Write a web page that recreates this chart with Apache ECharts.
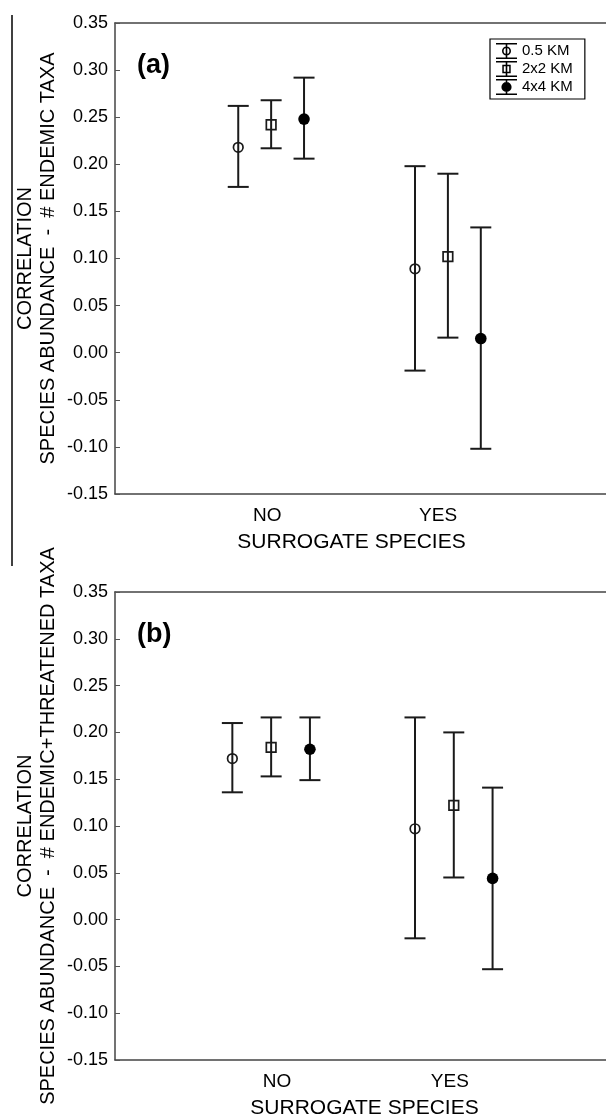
<!DOCTYPE html>
<html>
<head>
<meta charset="utf-8">
<script src="https://cdn.jsdelivr.net/npm/echarts@6/dist/echarts.min.js"></script>
<style>
html,body{margin:0;padding:0;background:#fff;}
#chart{width:606px;height:1120px;}
</style>
</head>
<body>
<div id="chart"></div>
<script>
// ---------- DATA ----------
const categories = ['NO', 'YES'];
const sizeClasses = ['0.5 KM', '2x2 KM', '4x4 KM'];
const yTickMin = -0.15, yTickMax = 0.35, yTickStep = 0.05;

// Panel (a): species abundance vs # endemic taxa
const a05Mean = [0.218, 0.089];  const a05Low = [0.176, -0.019]; const a05High = [0.262, 0.198];
const a2Mean  = [0.242, 0.102];  const a2Low  = [0.217, 0.016];  const a2High  = [0.268, 0.190];
const a4Mean  = [0.248, 0.015];  const a4Low  = [0.206, -0.102]; const a4High  = [0.292, 0.133];

// Panel (b): species abundance vs # endemic+threatened taxa
const b05Mean = [0.172, 0.097];  const b05Low = [0.136, -0.020]; const b05High = [0.210, 0.216];
const b2Mean  = [0.184, 0.122];  const b2Low  = [0.153, 0.045];  const b2High  = [0.216, 0.200];
const b4Mean  = [0.182, 0.044];  const b4Low  = [0.149, -0.053]; const b4High  = [0.216, 0.141];

const yTitleA = 'CORRELATION\nSPECIES ABUNDANCE  -  # ENDEMIC TAXA';
const yTitleB = 'CORRELATION\nSPECIES ABUNDANCE  -  # ENDEMIC+THREATENED TAXA';
const xTitle = 'SURROGATE SPECIES';

// ---------- LAYOUT ----------
const FONT = '"Liberation Sans", Arial, Helvetica, sans-serif';
const INK = '#1a1a1a';
const AXIS = '#444';
const panels = [
  { means: [a05Mean, a2Mean, a4Mean], lows: [a05Low, a2Low, a4Low], highs: [a05High, a2High, a4High],
    centers: [31.8, 67.8], offset: 6.7, labelPos: [31.0, 65.8], top: 23, yTitle: yTitleA, label: '(a)',
    xNamePad: [0, 18, 0, 0] },
  { means: [b05Mean, b2Mean, b4Mean], lows: [b05Low, b2Low, b4Low], highs: [b05High, b2High, b4High],
    centers: [31.8, 69.0], offset: 7.9, labelPos: [33.0, 68.2], top: 592, yTitle: yTitleB, label: '(b)',
    xNamePad: [0, 0, 0, 8] }
];
const PLOT_H = 471;
const markerKinds = ['ring', 'square', 'dot'];

function renderErr(kind) {
  return function (params, api) {
    const x = api.value(0);
    const m = api.coord([x, api.value(1)]);
    const lo = api.coord([x, api.value(2)]);
    const hi = api.coord([x, api.value(3)]);
    const cw = 10.5;
    const ls = { stroke: INK, lineWidth: 2 };
    const children = [
      { type: 'line', shape: { x1: hi[0], y1: hi[1], x2: lo[0], y2: lo[1] }, style: ls },
      { type: 'line', shape: { x1: hi[0] - cw, y1: hi[1], x2: hi[0] + cw, y2: hi[1] }, style: ls },
      { type: 'line', shape: { x1: lo[0] - cw, y1: lo[1], x2: lo[0] + cw, y2: lo[1] }, style: ls }
    ];
    if (kind === 'ring') {
      children.push({ type: 'circle', shape: { cx: m[0], cy: m[1], r: 4.8 }, style: { fill: 'none', stroke: INK, lineWidth: 1.7 } });
    } else if (kind === 'square') {
      children.push({ type: 'rect', shape: { x: m[0] - 4.8, y: m[1] - 4.8, width: 9.6, height: 9.6 }, style: { fill: 'none', stroke: INK, lineWidth: 1.7 } });
    } else {
      children.push({ type: 'circle', shape: { cx: m[0], cy: m[1], r: 5.8 }, style: { fill: '#000' } });
    }
    return { type: 'group', children: children };
  };
}

const icons = [
  'path://M0 0H21V1.6H0Z M0 14.4H21V16H0Z M9.7 1.6H11.3V14.4H9.7Z M15 8A4.5 4.5 0 1 1 6 8A4.5 4.5 0 1 1 15 8Z M13.4 8A2.9 2.9 0 1 0 7.6 8A2.9 2.9 0 1 0 13.4 8Z',
  'path://M0 0H21V1.6H0Z M0 14.4H21V16H0Z M9.7 1.6H11.3V14.4H9.7Z M6.3 3.8H14.7V12.2H6.3Z M7.8 5.3V10.7H13.2V5.3Z',
  'path://M0 0H21V1.6H0Z M0 14.4H21V16H0Z M9.7 1.6H11.3V14.4H9.7Z M15.6 8A5.1 5.1 0 1 1 5.4 8A5.1 5.1 0 1 1 15.6 8Z'
];

const grids = [], xAxes = [], yAxes = [], series = [], titles = [];
panels.forEach(function (p, pi) {
  grids.push({ left: 115, right: 0, top: p.top, height: PLOT_H, show: false });
  xAxes.push({
    type: 'value', gridIndex: pi, min: 0, max: 100, position: 'bottom',
    splitLine: { show: false },
    axisLine: { show: true, onZero: false, lineStyle: { color: AXIS, width: 1.5 } },
    axisTick: { show: false },
    axisLabel: {
      customValues: p.labelPos, margin: 12, fontSize: 19, color: '#000', fontFamily: FONT,
      formatter: function (v) {
        for (let i = 0; i < p.labelPos.length; i++) if (Math.abs(p.labelPos[i] - v) < 1e-6) return categories[i];
        return '';
      }
    },
    name: xTitle, nameLocation: 'middle', nameGap: 38, nameMoveOverlap: false,
    nameTextStyle: { fontSize: 21, color: '#000', fontFamily: FONT, padding: p.xNamePad }
  });
  // top frame line of the panel
  xAxes.push({
    type: 'value', gridIndex: pi, min: 0, max: 100, position: 'top',
    splitLine: { show: false },
    axisLine: { show: true, onZero: false, lineStyle: { color: AXIS, width: 1.5 } },
    axisTick: { show: false }, axisLabel: { show: false }
  });
  yAxes.push({
    type: 'value', gridIndex: pi, min: yTickMin, max: yTickMax, interval: yTickStep,
    splitLine: { show: false },
    axisLine: { show: true, onZero: false, lineStyle: { color: AXIS, width: 1.5 } },
    axisTick: { show: true, inside: true, length: 5, lineStyle: { color: '#555', width: 1 } },
    axisLabel: { margin: 7, fontSize: 18, color: '#000', fontFamily: FONT,
      formatter: function (v) { return (Math.abs(v) < 1e-9 ? 0 : v).toFixed(2); } },
    name: p.yTitle, nameLocation: 'middle', nameGap: 55, nameRotate: 90, nameMoveOverlap: false,
    nameTextStyle: { fontSize: 20, lineHeight: 23, color: '#000', fontFamily: FONT, align: 'center' }
  });
  sizeClasses.forEach(function (name, si) {
    const data = categories.map(function (c, ci) {
      return [p.centers[ci] + (si - 1) * p.offset, p.means[si][ci], p.lows[si][ci], p.highs[si][ci]];
    });
    series.push({
      type: 'custom', name: name, xAxisIndex: pi * 2, yAxisIndex: pi,
      itemStyle: { color: '#000' },
      renderItem: renderErr(markerKinds[si]),
      encode: { x: 0, y: [1, 2, 3] },
      data: data, silent: true, animation: false
    });
  });
  titles.push({ text: p.label, left: 137, top: p.top + 29, padding: 0,
    textStyle: { fontSize: 27, fontWeight: 'bold', color: '#000', fontFamily: FONT } });
});

const chart = echarts.init(document.getElementById('chart'), null, { renderer: 'canvas' });
chart.setOption({
  animation: false,
  backgroundColor: '#fff',
  title: titles,
  grid: grids,
  xAxis: xAxes,
  yAxis: yAxes,
  legend: {
    orient: 'vertical', left: 490, top: 39, selectedMode: false,
    borderColor: '#000', borderWidth: 1.2, padding: [4, 12, 4, 6],
    itemWidth: 21, itemHeight: 16, itemGap: 2,
    textStyle: { fontSize: 15, color: '#000', fontFamily: FONT },
    data: sizeClasses.map(function (n, i) { return { name: n, icon: icons[i], itemStyle: { color: '#000' } }; })
  },
  graphic: [
    { type: 'line', shape: { x1: 12, y1: 15, x2: 12, y2: 566 }, style: { stroke: '#000', lineWidth: 1.5 } }
  ],
  series: series
});
</script>
</body>
</html>
